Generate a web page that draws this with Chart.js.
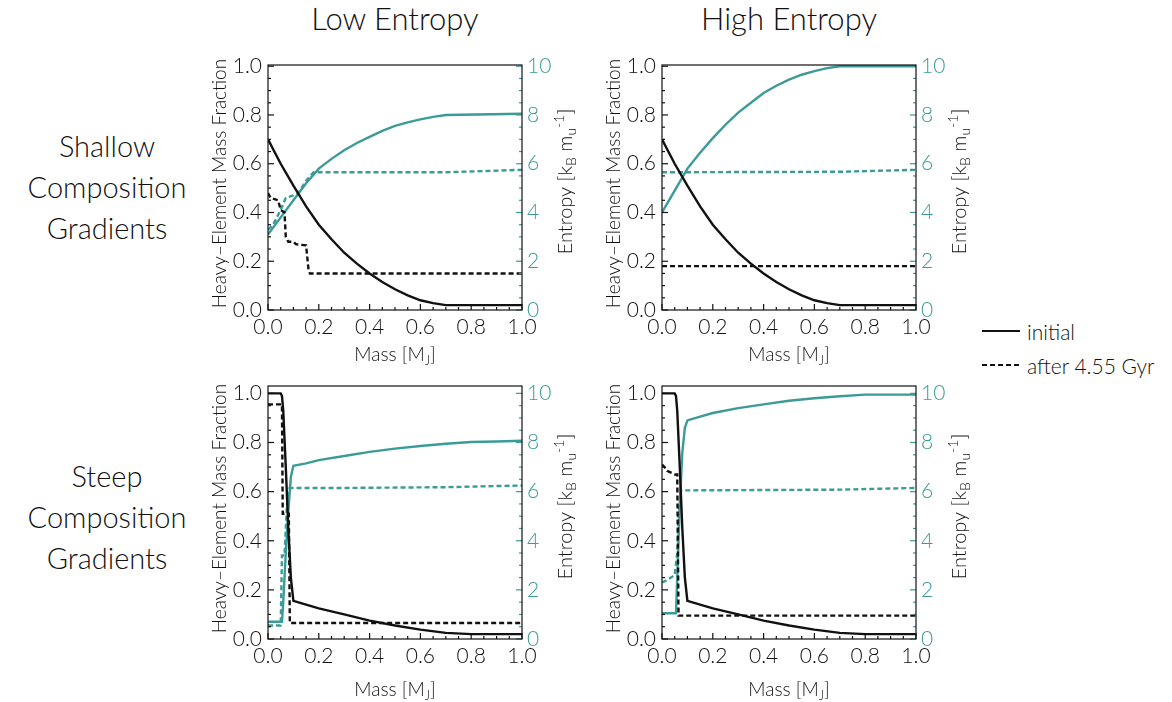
<!DOCTYPE html>
<html>
<head>
<meta charset="utf-8">
<script src="https://cdn.jsdelivr.net/npm/chart.js@4.4.0/dist/chart.umd.min.js"></script>
<style>
    body {
        margin: 0;
        width: 1172px;
        height: 702px;
        background: #ffffff;
        position: relative;
        overflow: hidden;
        font-family: Lato, "Open Sans", "Noto Sans", sans-serif;
        font-weight: 300;
        color: #111;
    }
    canvas { position: absolute; }
    .col-title {
        position: absolute;
        top: 0;
        width: 300px;
        text-align: center;
        font-size: 31px;
        line-height: 36px;
    }
    .row-title {
        position: absolute;
        left: 7px;
        width: 200px;
        text-align: center;
        font-size: 29px;
        line-height: 41px;
    }
    .legend {
        position: absolute;
        left: 980px;
        top: 314px;
        font-size: 21px;
    }
    .legend div { height: 34px; display: flex; align-items: center; }
    .legend svg { margin-right: 5px; }
</style>
</head>
<body>

<div class="col-title" style="left:245px">Low Entropy</div>
<div class="col-title" style="left:639px">High Entropy</div>

<div class="row-title" style="top:125px">Shallow<br>Composition<br>Gradients</div>
<div class="row-title" style="top:455px">Steep<br>Composition<br>Gradients</div>

<div class="legend">
    <div><svg width="42" height="6"><line x1="2" y1="3" x2="40" y2="3" stroke="#111" stroke-width="2"/></svg>initial</div>
    <div><svg width="42" height="6"><line x1="2" y1="3" x2="40" y2="3" stroke="#111" stroke-width="2" stroke-dasharray="5,3"/></svg>after 4.55 Gyr</div>
</div>

<canvas id="shallowLow" width="390" height="330" style="left:200px; top:40px"></canvas>
<canvas id="shallowHigh" width="390" height="330" style="left:594px; top:40px"></canvas>
<canvas id="steepLow" width="390" height="340" style="left:200px; top:362px"></canvas>
<canvas id="steepHigh" width="390" height="340" style="left:594px; top:362px"></canvas>

<script>
// ---- tick labels ----
const massTicks = [0, 0.2, 0.4, 0.6, 0.8, 1.0];
const zTicks = [0, 0.2, 0.4, 0.6, 0.8, 1.0];
const entropyTicks = [0, 2, 4, 6, 8, 10];

// ---- shallow gradients (top row) ----
// initial heavy-element profile, same in both entropy cases
const zInitShallowMass = [0, 0.05, 0.1, 0.15, 0.2, 0.25, 0.3, 0.35, 0.4, 0.45, 0.5, 0.55, 0.6, 0.65, 0.7, 1.0];
const zInitShallow     = [0.70, 0.60, 0.51, 0.425, 0.35, 0.29, 0.235, 0.19, 0.15, 0.115, 0.085, 0.06, 0.04, 0.028, 0.02, 0.02];

const zAfterShallowLowMass = [0, 0.01, 0.04, 0.05, 0.065, 0.07, 0.08, 0.10, 0.11, 0.15, 0.16, 0.165, 1.0];
const zAfterShallowLow     = [0.48, 0.46, 0.45, 0.41, 0.40, 0.30, 0.28, 0.28, 0.27, 0.265, 0.16, 0.15, 0.15];

const sInitShallowLowMass = [0, 0.05, 0.1, 0.15, 0.2, 0.25, 0.3, 0.35, 0.4, 0.45, 0.5, 0.55, 0.6, 0.65, 0.7, 1.0];
const sInitShallowLow     = [3.1, 3.8, 4.5, 5.2, 5.8, 6.2, 6.55, 6.85, 7.1, 7.35, 7.55, 7.7, 7.82, 7.92, 8.0, 8.05];

const sAfterShallowLowMass = [0, 0.02, 0.05, 0.07, 0.10, 0.12, 0.15, 0.18, 0.7, 1.0];
const sAfterShallowLow     = [3.3, 3.5, 4.1, 4.6, 4.7, 4.8, 5.3, 5.65, 5.65, 5.75];

const zAfterShallowHighMass = [0, 1.0];
const zAfterShallowHigh     = [0.18, 0.18];

const sInitShallowHighMass = [0, 0.05, 0.1, 0.15, 0.2, 0.25, 0.3, 0.35, 0.4, 0.45, 0.5, 0.55, 0.6, 0.65, 0.7, 1.0];
const sInitShallowHigh     = [4.0, 4.9, 5.8, 6.45, 7.05, 7.6, 8.1, 8.5, 8.9, 9.2, 9.45, 9.65, 9.8, 9.92, 10.0, 10.0];

const sAfterShallowHighMass = [0, 0.7, 1.0];
const sAfterShallowHigh     = [5.65, 5.67, 5.75];

// ---- steep gradients (bottom row) ----
const zInitSteepMass = [0, 0.05, 0.055, 0.06, 0.07, 0.08, 0.09, 0.1, 0.15, 0.2, 0.3, 0.4, 0.5, 0.6, 0.7, 0.8, 1.0];
const zInitSteep     = [1.0, 1.0, 0.99, 0.93, 0.70, 0.45, 0.25, 0.155, 0.14, 0.125, 0.10, 0.075, 0.055, 0.038, 0.025, 0.02, 0.02];

const zAfterSteepLowMass = [0, 0.055, 0.058, 0.082, 0.086, 1.0];
const zAfterSteepLow     = [0.955, 0.955, 0.51, 0.51, 0.065, 0.065];

const sInitSteepLowMass = [0, 0.055, 0.06, 0.07, 0.08, 0.09, 0.1, 0.15, 0.2, 0.3, 0.4, 0.5, 0.6, 0.7, 0.8, 0.9, 1.0];
const sInitSteepLow     = [0.7, 0.7, 1.5, 3.5, 5.2, 6.6, 7.05, 7.15, 7.28, 7.45, 7.62, 7.75, 7.86, 7.95, 8.02, 8.04, 8.07];

const sAfterSteepLowMass = [0, 0.05, 0.055, 0.065, 0.075, 0.085, 0.3, 0.7, 1.0];
const sAfterSteepLow     = [0.55, 0.55, 3.4, 3.4, 5.5, 6.15, 6.15, 6.18, 6.25];

const zAfterSteepHighMass = [0, 0.01, 0.02, 0.05, 0.06, 0.065, 1.0];
const zAfterSteepHigh     = [0.71, 0.70, 0.685, 0.67, 0.67, 0.095, 0.095];

const sInitSteepHighMass = [0, 0.055, 0.06, 0.07, 0.08, 0.09, 0.1, 0.15, 0.2, 0.3, 0.4, 0.5, 0.6, 0.7, 0.8, 1.0];
const sInitSteepHigh     = [1.05, 1.05, 2.5, 5.5, 7.6, 8.6, 8.9, 9.05, 9.2, 9.4, 9.55, 9.7, 9.8, 9.88, 9.95, 9.95];

const sAfterSteepHighMass = [0, 0.02, 0.05, 0.06, 0.065, 0.075, 0.7, 1.0];
const sAfterSteepHigh     = [2.3, 2.4, 2.6, 3.5, 5.0, 6.05, 6.08, 6.15];

/* ========================================
   Styling
   ======================================== */

const INK = '#111111';
const TEAL = '#3a9b97';
const FONT = 'Lato, "Open Sans", "Noto Sans", sans-serif';

function pts(xs, ys) {
    return xs.map((x, i) => ({ x: x, y: ys[i] }));
}

function series(xs, ys, color, dashed, axis) {
    return {
        data: pts(xs, ys),
        borderColor: color,
        borderWidth: 2.4,
        borderDash: dashed ? [5, 3] : [],
        pointRadius: 0,
        tension: 0,
        fill: false,
        yAxisID: axis
    };
}

// draw a string made of pieces with sub/superscripts, centred on (0,0)
function drawRich(ctx, parts, size) {
    const small = Math.round(size * 0.7);
    let total = 0;
    parts.forEach(p => {
        ctx.font = '300 ' + (p.sub || p.sup ? small : size) + 'px ' + FONT;
        p.w = ctx.measureText(p.t).width;
        total += p.w;
    });
    let x = -total / 2;
    ctx.textAlign = 'left';
    ctx.textBaseline = 'middle';
    parts.forEach(p => {
        ctx.font = '300 ' + (p.sub || p.sup ? small : size) + 'px ' + FONT;
        let dy = 0;
        if (p.sub) dy = size * 0.28;
        if (p.sup) dy = -size * 0.35;
        ctx.fillText(p.t, x, dy);
        x += p.w;
    });
}

/* ========================================
   Frame, inward ticks and axis titles
   ======================================== */

const framePlugin = {
    id: 'framePlugin',
    afterDatasetsDraw(chart, args, opts) {
        const { ctx, chartArea: a, scales } = chart;
        ctx.save();
        ctx.lineWidth = 1.2;

        // x ticks along the bottom
        ctx.strokeStyle = INK;
        for (let i = 0; i <= 20; i++) {
            const px = scales.x.getPixelForValue(i * 0.05);
            const len = i % 4 === 0 ? 6 : 3;
            ctx.beginPath();
            ctx.moveTo(px, a.bottom);
            ctx.lineTo(px, a.bottom - len);
            ctx.stroke();
        }
        // left ticks
        for (let i = 0; i <= 20; i++) {
            const py = scales.y.getPixelForValue(i * 0.05);
            const len = i % 4 === 0 ? 6 : 3;
            ctx.beginPath();
            ctx.moveTo(a.left, py);
            ctx.lineTo(a.left + len, py);
            ctx.stroke();
        }
        // right ticks (entropy)
        ctx.strokeStyle = TEAL;
        for (let i = 0; i <= 20; i++) {
            const py = scales.y2.getPixelForValue(i * 0.5);
            const len = i % 4 === 0 ? 6 : 3;
            ctx.beginPath();
            ctx.moveTo(a.right, py);
            ctx.lineTo(a.right - len, py);
            ctx.stroke();
        }

        // frame
        ctx.strokeStyle = INK;
        ctx.strokeRect(a.left, a.top, a.width, a.height);

        // axis titles
        ctx.fillStyle = INK;
        ctx.save();
        ctx.translate((a.left + a.right) / 2, opts.massY);
        drawRich(ctx, [{ t: 'Mass [M' }, { t: 'J', sub: true }, { t: ']' }], 19);
        ctx.restore();

        ctx.save();
        ctx.translate(20, (a.top + a.bottom) / 2 - 4);
        ctx.rotate(-Math.PI / 2);
        drawRich(ctx, [{ t: 'Heavy\u2013Element Mass Fraction' }], 19);
        ctx.restore();

        ctx.save();
        ctx.translate(366, (a.top + a.bottom) / 2 - 6);
        ctx.rotate(-Math.PI / 2);
        drawRich(ctx, [
            { t: 'Entropy [k' }, { t: 'B', sub: true }, { t: ' m' },
            { t: 'u', sub: true }, { t: '-1', sup: true }, { t: ']' }
        ], 20);
        ctx.restore();

        ctx.restore();
    }
};

/* ========================================
   Build one panel
   ======================================== */

function makePanel(id, datasets, topPad, xHeight, yTop, massY) {
    const el = document.getElementById(id);
    const tickFont = { family: FONT, size: 21, weight: 300 };
    return new Chart(el, {
        type: 'line',
        data: { datasets: datasets },
        plugins: [framePlugin],
        options: {
            responsive: false,
            animation: false,
            layout: { padding: { top: topPad, left: 0, right: 0, bottom: 0 } },
            plugins: {
                legend: { display: false },
                tooltip: { enabled: false },
                framePlugin: { massY: massY }
            },
            scales: {
                x: {
                    type: 'linear',
                    min: 0,
                    max: 1,
                    grid: { display: false, drawTicks: false },
                    border: { display: false },
                    afterBuildTicks: s => { s.ticks = massTicks.map(v => ({ value: v })); },
                    afterFit: s => { s.height = xHeight; },
                    ticks: {
                        autoSkip: false,
                        maxRotation: 0,
                        padding: 5,
                        color: INK,
                        font: tickFont,
                        callback: v => v.toFixed(1)
                    }
                },
                y: {
                    type: 'linear',
                    position: 'left',
                    min: 0,
                    max: yTop,
                    grid: { display: false, drawTicks: false },
                    border: { display: false },
                    afterBuildTicks: s => { s.ticks = zTicks.map(v => ({ value: v })); },
                    afterFit: s => { s.width = 68; },
                    ticks: {
                        padding: 6,
                        color: INK,
                        font: tickFont,
                        callback: v => v.toFixed(1)
                    }
                },
                y2: {
                    type: 'linear',
                    position: 'right',
                    min: 0,
                    max: yTop * 10,
                    grid: { display: false, drawTicks: false },
                    border: { display: false },
                    afterBuildTicks: s => { s.ticks = entropyTicks.map(v => ({ value: v })); },
                    afterFit: s => { s.width = 68; },
                    ticks: {
                        padding: 5,
                        color: TEAL,
                        font: tickFont,
                        callback: v => String(v)
                    }
                }
            }
        }
    });
}

makePanel('shallowLow', [
    series(zAfterShallowLowMass, zAfterShallowLow, INK, true, 'y'),
    series(zInitShallowMass, zInitShallow, INK, false, 'y'),
    series(sAfterShallowLowMass, sAfterShallowLow, TEAL, true, 'y2'),
    series(sInitShallowLowMass, sInitShallowLow, TEAL, false, 'y2')
], 25, 60, 1.005, 315);

makePanel('shallowHigh', [
    series(zAfterShallowHighMass, zAfterShallowHigh, INK, true, 'y'),
    series(zInitShallowMass, zInitShallow, INK, false, 'y'),
    series(sAfterShallowHighMass, sAfterShallowHigh, TEAL, true, 'y2'),
    series(sInitShallowHighMass, sInitShallowHigh, TEAL, false, 'y2')
], 25, 60, 1.005, 315);

makePanel('steepLow', [
    series(zAfterSteepLowMass, zAfterSteepLow, INK, true, 'y'),
    series(zInitSteepMass, zInitSteep, INK, false, 'y'),
    series(sAfterSteepLowMass, sAfterSteepLow, TEAL, true, 'y2'),
    series(sInitSteepLowMass, sInitSteepLow, TEAL, false, 'y2')
], 24, 63, 1.03, 328);

makePanel('steepHigh', [
    series(zAfterSteepHighMass, zAfterSteepHigh, INK, true, 'y'),
    series(zInitSteepMass, zInitSteep, INK, false, 'y'),
    series(sAfterSteepHighMass, sAfterSteepHigh, TEAL, true, 'y2'),
    series(sInitSteepHighMass, sInitSteepHigh, TEAL, false, 'y2')
], 24, 63, 1.03, 328);
</script>
</body>
</html>
